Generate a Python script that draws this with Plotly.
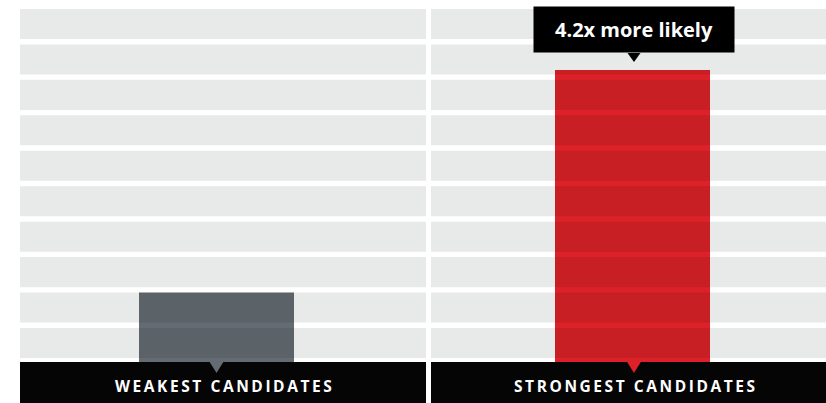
import plotly.graph_objects as go

# ---- data ----
categories = ["WEAKEST CANDIDATES", "STRONGEST CANDIDATES"]
values = [1.0, 4.2]
bar_colors = ["#646b72", "#dc2128"]
callout_text = "4.2x more likely"
band_rows = list(range(10))

# ---- geometry (pixels in an 826x403 canvas) ----
W, H = 826, 403
zero_px = 362          # pixel row of value 0
unit_px = 292 / 4.2    # pixels per unit value
bar_px = 155           # bar width in pixels
panels = [
    dict(x0=20, x1=426, center=216.5, label=223, tri_dx=0),
    dict(x0=431, x1=826, center=632.5, label=634, tri_dx=1.5),
]
band_top_px, band_bot_px = 6.3, 360.7

LABEL_FONT = "Open Sans"


def spaced(s):
    return "\u2009".join(s)


fig = go.Figure()
layout_axes = {}
shapes = []
annotations = []

for i, (cat, val, col, p) in enumerate(zip(categories, values, bar_colors, panels)):
    n = i + 1
    xa = "x" if n == 1 else f"x{n}"
    ya = "y" if n == 1 else f"y{n}"
    xk = "xaxis" if n == 1 else f"xaxis{n}"
    yk = "yaxis" if n == 1 else f"yaxis{n}"
    fig.add_trace(go.Bar(x=[cat], y=[val], width=1, marker=dict(color=col, line_width=0),
                         xaxis=xa, yaxis=ya, hoverinfo="skip", showlegend=False))
    dom_x = [p["x0"] / W, p["x1"] / W]
    layout_axes[xk] = dict(domain=dom_x, type="category", visible=False, fixedrange=True,
                           range=[-(p["center"] - p["x0"]) / bar_px, (p["x1"] - p["center"]) / bar_px],
                           anchor=ya)
    layout_axes[yk] = dict(domain=[(H - zero_px) / H, 1], range=[0, zero_px / unit_px],
                           visible=False, fixedrange=True, anchor=xa)

    # band overlay subplot (drawn above bars)
    m = n + 2
    fig.add_trace(go.Bar(y=band_rows, x=[1] * len(band_rows), orientation="h",
                         marker=dict(color="rgba(0,10,15,0.09)", line_width=0),
                         xaxis=f"x{m}", yaxis=f"y{m}", hoverinfo="skip", showlegend=False))
    layout_axes[f"xaxis{m}"] = dict(domain=dom_x, range=[0, 1], visible=False, fixedrange=True,
                                    anchor=f"y{m}")
    layout_axes[f"yaxis{m}"] = dict(domain=[(H - band_bot_px) / H, (H - band_top_px) / H],
                                    range=[-0.5, len(band_rows) - 0.5], visible=False,
                                    fixedrange=True, anchor=f"x{m}")

    # black label strip
    shapes.append(dict(type="rect", xref=f"{xa} domain", yref="paper", x0=0, x1=1,
                       y0=0, y1=(H - zero_px) / H, fillcolor="#050505", line_width=0,
                       layer="below"))
    # pointer triangle under bar (anchored at the bar's x and the value-0 baseline)
    shapes.append(dict(type="path", xref=xa, yref="paper", xsizemode="pixel", ysizemode="pixel",
                       xanchor=cat, yanchor=(H - zero_px) / H,
                       path=f"M {p['tri_dx']-7.5},1 L {p['tri_dx']+7.5},1 L {p['tri_dx']},-11 Z",
                       fillcolor=col, line_width=0, layer="above"))
    annotations.append(dict(text=spaced(cat), xref="paper", yref="paper",
                            x=p["label"] / W, y=(H - 386) / H, xanchor="center", yanchor="middle",
                            showarrow=False,
                            font=dict(family=LABEL_FONT, size=15.5, color="white", weight="bold")))

# callout above the strongest bar
annotations.append(dict(text=callout_text, xref="x2", yref="y2", x=categories[1], y=values[1],
                        xanchor="center", yanchor="bottom", yshift=17, xshift=1.5,
                        width=200, height=45, bgcolor="#000000", borderpad=0, showarrow=False,
                        font=dict(family=LABEL_FONT, size=20, color="white", weight="bold")))
shapes.append(dict(type="path", xref="x2", yref="y2", xsizemode="pixel", ysizemode="pixel",
                   xanchor=categories[1], yanchor=values[1],
                   path="M -5,17 L 8,17 L 1.5,8 Z", fillcolor="#000000", line_width=0,
                   layer="above"))

fig.update_layout(width=W, height=H, margin=dict(l=0, r=0, t=0, b=0),
                  paper_bgcolor="white", plot_bgcolor="rgba(0,0,0,0)",
                  bargap=0.152, showlegend=False, shapes=shapes, annotations=annotations,
                  **layout_axes)

fig.write_html("out.html", config=dict(displayModeBar=False, staticPlot=True))
